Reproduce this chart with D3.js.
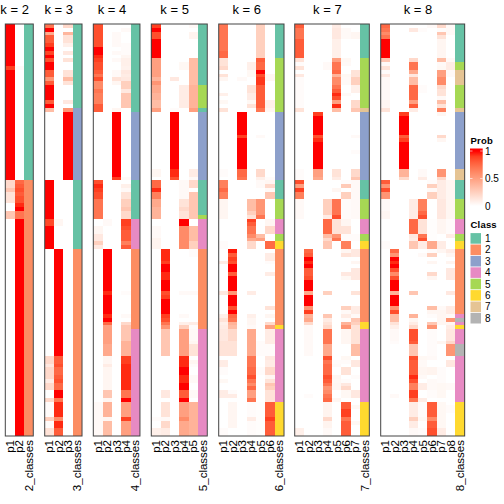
<!DOCTYPE html>
<html><head><meta charset="utf-8">
<script src="https://cdnjs.cloudflare.com/ajax/libs/d3/7.8.5/d3.min.js"></script>
<style>html,body{margin:0;padding:0;background:#fff}svg{display:block}text{font-family:"Liberation Sans",Arial,sans-serif;fill:#000}.cell{shape-rendering:crispEdges}</style>
</head><body><svg id="c" width="504" height="504"></svg>
<script>
// Every series is a list of (row, value) steps: a value holds until the next listed row.
const rowCount = 108;
const kValues = [2,3,4,5,6,7,8];
const classColors = ["#66C2A5","#FC8D62","#8DA0CB","#E78AC3","#A6D854","#FFD92F","#E5C494","#B3B3B3"];
const classLabels = ["1","2","3","4","5","6","7","8"];
const probTicks = [0,0.5,1];

const k2_p1 = [0,1,11,.9,12,1,41,.2,43,.3,44,.15,47,0,49,.3,51,0];
const k2_p2 = [0,0,11,.03,12,0,41,.75,42,.8,43,.85,44,.8,45,.85,47,.95,48,1,49,.7,51,1];
const k2_class = [0,1,41,2];

const k3_p1 = [0,.7,1,1,2,.45,3,.8,5,.9,6,1,7,.88,8,1,9,.85,10,1,12,.8,14,.55,15,.8,16,1,20,.8,21,1,22,.35,23,0,41,1,51,.87,53,1,59,0,87,.2,89,.12,90,.2,93,.1,94,.2,96,0,98,.2,99,.02,103,.25,104,.02,106,.15];
const k3_p2 = [0,0,51,.05,53,0,59,1,87,.8,89,.85,90,.75,92,.8,93,.85,94,.75,96,1,98,.7,99,.95,103,.6,104,.95,106,.8];
const k3_p3 = [0,.2,1,0,2,.38,3,.15,5,.08,6,0,7,.12,8,0,9,.15,10,0,12,.15,14,.35,15,.15,16,0,20,.12,21,0,22,.55,23,1,41,0];
const k3_class = [0,1,22,3,41,1,59,2];

const k4_p1 = [0,.85,6,1,8,.95,9,.9,10,.85,12,.8,13,.7,14,.85,15,.6,17,.7,18,.65,21,.8,23,0,41,.85,42,.95,43,.9,44,.85,46,.7,51,0,53,.05,55,.12,57,.25,58,.12,59,0,99,.03];
const k4_p2 = [0,0,51,.03,53,0,59,1,70,.95,71,1,76,.95,77,1,78,.75,79,.5,83,.5,84,.45,87,.05,89,.1,90,.05,96,.3,98,.05,99,.4,103,.05,104,.35];
const k4_p3 = [0,0,2,.03,6,0,7,.03,8,0,9,.03,10,0,12,.03,14,.15,15,.05,16,0,22,.05,23,1,40,.9,41,0];
const k4_p4 = [0,0,1,.03,2,0,5,.02,8,.05,9,.08,11,.07,12,.12,13,.1,14,.12,15,.25,17,.12,18,.3,22,0,40,.03,41,0,42,.08,43,.03,44,.15,46,.25,48,.3,49,.2,51,.9,53,.85,54,.8,57,.65,58,.8,59,0,70,.02,71,0,76,.03,77,0,78,.2,79,.3,83,.4,87,.9,89,.95,96,.7,98,1,99,.5,103,.9,104,.5];
const k4_class = [0,1,23,3,41,1,51,4,59,2,80,4];

const k5_p1 = [0,.9,1,1,2,.85,4,1,9,.5,14,.4,15,.55,16,.45,18,.4,20,.35,22,.5,23,0,38,.05,40,0,41,.75,43,.95,44,.65,46,.45,48,.4,51,0,53,.03,56,.06,59,0,103,.02,104,0,106,.08];
const k5_p2 = [0,0,59,.95,62,.9,63,1,65,.95,67,1,70,.85,71,.9,72,1,76,.9,77,.85,78,.7,79,.55,80,.3,87,0,96,.12,98,0,99,.15,103,.03,104,.2,106,.1];
const k5_p3 = [0,0,14,.12,15,0,22,.02,23,1,38,.95,40,.85,41,0];
const k5_p4 = [0,0,10,.04,12,0,16,.1,22,0,41,.03,46,.15,48,.2,49,.15,51,1,53,.6,59,0,70,.03,71,0,76,.03,77,0,78,.08,79,.25,80,.5,87,.95,89,.95,90,1,92,.95,94,1,96,.8,98,1,99,.5,103,.6,104,.45];
const k5_p5 = [0,.03,1,0,2,.06,4,0,9,.35,16,.4,22,.5,23,0,38,.1,40,.03,41,.2,43,0,44,.3,51,0,53,.35,57,.25,59,.02,61,0,70,.03,71,0,78,.1,79,.02,80,.03,83,.05,84,.15,87,0,88,.05,89,.02,90,0,92,.03,94,0,96,.03,98,0,99,.4];
const k5_class = [0,1,16,5,22,1,23,3,41,1,50,5,51,4,59,2,80,4];

const k6_p1 = [0,.7,7,.75,9,.15,11,.2,12,0,13,.15,14,.05,15,0,18,.08,19,0,20,.04,21,0,22,.15,23,0,38,.02,40,0,41,.65,43,.75,44,.65,46,.05,51,0,57,.02,59,0,62,.1,63,0,70,.12,71,0,76,.08,77,.15,78,.08,79,.1,80,.12,83,.15,87,0,88,.1,90,.02,92,0,93,.04,94,0,96,.1,98,0,106,.02];
const k6_p2 = [0,0,59,.98,60,.8,61,.9,62,.85,63,1,65,.8,66,1,70,.55,71,1,74,.85,75,1,76,.75,77,.7,78,.4,79,.35,80,.2,83,.15,87,0,96,.02,97,.1,98,0,99,.05,106,0];
const k6_p3 = [0,0,14,.03,15,0,23,1,29,.9,30,1,38,.75,40,.7,41,0];
const k6_p4 = [0,0,10,.08,12,.04,14,0,16,.15,18,.1,20,.04,21,.15,22,0,46,.35,49,.25,50,.15,51,.9,52,.8,53,.7,55,.6,56,.45,57,.2,59,0,70,.1,71,0,76,.08,77,.05,79,.03,80,.45,87,.7,90,.75,92,.85,93,.7,94,.6,95,.75,96,.5,98,.7,99,.02,103,.1,104,.02];
const k6_p5 = [0,.25,9,.8,10,.75,12,1,13,.85,14,.92,16,.8,22,.7,23,0,29,.03,30,0,38,.2,40,.08,41,.03,43,0,46,.55,50,.7,51,0,55,.35,56,.5,57,0,59,0,83,.02,87,0,90,.02,92,0,99,.01];
const k6_p6 = [0,0,13,.05,15,0,20,.08,22,.05,23,0,40,.02,41,.05,42,.2,43,.03,44,.3,46,0,51,.05,53,.2,55,0,57,.75,59,0,60,.1,62,.02,63,0,65,.1,66,0,74,.15,75,0,76,.05,77,0,78,.2,79,.5,80,.1,84,.02,87,.12,88,.1,90,.2,92,.05,93,.15,94,.3,95,.25,96,.15,99,.8,103,.9,104,.8];
const k6_class = [0,1,9,5,23,3,41,1,46,5,51,4,55,5,57,6,59,2,79,6,80,4,99,6];

const k7_p1 = [0,.8,1,.7,4,.8,9,.15,10,.02,11,.15,12,0,13,.12,14,.02,22,.15,23,0,38,.02,41,.85,42,.5,43,.9,44,.65,46,.03,51,0,106,.08];
const k7_p2 = [0,0,59,.75,60,.8,61,1,62,.95,63,1,64,.8,66,.85,67,1,70,.45,71,1,74,.55,75,.9,76,.4,77,.45,78,.2,79,.03,87,0,97,.02,98,0];
const k7_p3 = [0,0,23,.9,24,1,29,.85,30,.95,31,1,38,.5,40,.45,41,0];
const k7_p4 = [0,0,10,.03,12,0,46,.25,50,.1,51,.75,55,.35,56,.2,57,.3,59,0,70,.25,71,0,76,.3,77,.1,78,.15,79,.2,80,.7,83,.7,84,.45,87,.85,88,.7,89,.75,92,.85,93,.8,94,.7,95,.55,96,.6,97,.7,98,.75,99,.06,103,.2,104,.06,106,.03];
const k7_p5 = [0,.1,1,.12,4,.08,9,.5,10,.7,12,.75,13,.4,14,.6,16,.7,17,.8,18,.95,19,.85,20,.5,21,.95,22,.35,23,0,38,.15,40,.1,41,0,43,.05,44,0,46,.7,50,.85,51,.15,55,.55,56,.7,57,0,88,.02,89,.03,90,0,92,.05,93,.04,94,.05,96,0,98,.05,99,0];
const k7_p6 = [0,0,1,.03,4,0,9,.04,10,.03,11,0,13,.04,14,.03,16,0,18,.03,19,0,41,.02,42,.28,43,0,44,.25,46,.02,51,.05,53,.15,55,.02,57,.65,59,.05,60,.15,61,0,65,.12,66,.04,67,0,74,.25,75,.03,76,.1,77,.02,78,.4,79,.55,80,.05,84,0,87,.04,88,.02,89,0,90,.15,92,0,93,.02,94,.12,95,.2,96,.04,98,0,99,.8,101,.9,103,.7,104,.8];
const k7_p7 = [0,0,2,.05,4,0,12,.15,14,.25,16,.08,18,0,20,.2,22,.3,23,0,29,.03,30,0,33,.02,34,0,38,.2,40,.3,41,.03,46,.03,51,0,55,.02,57,0,59,.12,61,0,62,.05,63,0,64,.12,67,0,70,.15,71,0,74,.1,76,.03,77,.3,78,.25,79,.15,83,.15,84,.35,87,0,88,.12,90,0,92,.02,93,0,96,.12,98,0,100,.04,101,0,104,.04,105,0];
const k7_class = [0,1,9,5,22,7,23,3,41,1,46,5,51,4,55,5,57,6,59,2,78,6,80,4,99,6];

const k8_p1 = [0,.75,1,.7,2,.6,3,.7,4,1,9,.3,10,.03,11,.15,12,.02,13,.12,14,.03,20,.05,22,.15,23,0,41,.8,42,.55,43,.85,44,.55,46,.03,49,.05,51,0,57,.02,59,0];
const k8_p2 = [0,0,59,.75,60,.55,61,1,62,.95,63,1,64,.85,65,.6,66,.85,67,1,70,.4,71,1,74,.55,75,.85,76,.35,78,.15,79,.08,80,.03,83,.02,84,0,97,.03,98,0];
const k8_p3 = [0,0,23,.9,24,1,29,.8,30,.9,31,1,38,.4,40,.2,41,0];
const k8_p4 = [0,0,1,.12,2,0,9,.2,10,.7,12,.45,13,.12,14,.35,16,.75,20,.5,21,.8,22,.1,23,0,46,.1,51,.75,55,.12,56,.1,57,.3,59,0,70,.3,71,0,76,.4,77,.05,78,.1,79,.2,80,.85,83,.8,84,.3,87,.85,88,.8,92,.95,93,.85,94,.65,96,.9,98,.7,99,.1,103,.25,104,.1,106,.03];
const k8_p5 = [0,0,1,.02,2,0,16,.02,18,0,38,.03,40,.1,41,0,46,.65,49,.75,50,.85,51,.15,55,.7,56,.85,57,.1,59,0,60,.03,61,0,87,.04,88,.03,90,.05,92,.03,93,0,94,.1,96,0,98,.1,99,.02,103,.04,104,0,106,.02];
const k8_p6 = [0,.03,1,0,41,.02,42,.25,43,.03,44,.25,46,0,51,.01,57,.45,59,.02,60,.25,61,0,62,.05,63,0,65,.2,66,.05,67,0,74,.35,75,.05,76,.02,77,0,78,.3,79,.55,80,.02,87,.03,88,0,90,.06,92,0,93,.03,96,.02,98,0,99,.8,103,.6,104,.8,106,.85];
const k8_p7 = [0,.2,1,.02,2,.3,3,.15,4,.05,9,.35,10,.03,11,.04,12,.5,14,.6,16,.2,17,.15,19,.03,20,.35,21,.15,22,.65,23,.05,24,0,29,.2,30,.05,31,0,38,.55,40,.2,41,.1,46,.12,51,.05,55,0,57,.1,59,.05,60,0,74,.03,75,.05,79,0,83,.05,84,0,90,.02,94,.04,98,0,99,.04,106,.1];
const k8_p8 = [0,.03,3,0,9,.03,10,.1,12,.03,14,0,41,.05,46,.05,51,.02,55,.1,56,0,59,.1,60,.05,61,0,62,.06,63,0,64,.12,67,0,70,.12,71,0,74,.1,76,.03,77,.55,78,.05,79,.1,80,.12,83,.2,84,.55,87,0,88,.12,90,0,94,.03,96,0,100,.02,102,0];
const k8_class = [0,1,10,5,12,7,16,5,22,7,23,3,38,7,41,1,46,5,51,4,55,5,57,6,59,2,76,4,77,8,78,4,79,6,80,4,84,8,87,4,99,6];

const probSeries = {
  2:[k2_p1,k2_p2],
  3:[k3_p1,k3_p2,k3_p3],
  4:[k4_p1,k4_p2,k4_p3,k4_p4],
  5:[k5_p1,k5_p2,k5_p3,k5_p4,k5_p5],
  6:[k6_p1,k6_p2,k6_p3,k6_p4,k6_p5,k6_p6],
  7:[k7_p1,k7_p2,k7_p3,k7_p4,k7_p5,k7_p6,k7_p7],
  8:[k8_p1,k8_p2,k8_p3,k8_p4,k8_p5,k8_p6,k8_p7,k8_p8]
};
const classSeries = {2:k2_class,3:k3_class,4:k4_class,5:k5_class,6:k6_class,7:k7_class,8:k8_class};
const panelLeft = {2:5.3,3:44.7,4:93.3,5:151.3,6:218.7,7:294.7,8:380.7};

function expand(steps){
  const out=new Array(rowCount).fill(0);
  for(let i=0;i<steps.length;i+=2){
    const end=i+2<steps.length?steps[i+2]:rowCount;
    for(let r=steps[i];r<end;r++) out[r]=steps[i+1];
  }
  return out;
}

const svg=d3.select("#c");
const plotTop=24,plotBottom=436,colW=9.33;
const y=d3.scaleBand().domain(d3.range(rowCount)).range([plotTop,plotBottom]);
const color=d3.scaleLinear().domain([0,1]).range(["#ffffff","#ff0000"]).interpolate(d3.interpolateLab);
const classColor=d3.scaleOrdinal().domain(d3.range(1,9)).range(classColors);

kValues.forEach(k=>{
  const cols=probSeries[k].map((s,i)=>"p"+(i+1));
  const names=cols.concat([k+"_classes"]);
  const x=d3.scaleBand().domain(names).range([panelLeft[k],panelLeft[k]+colW*names.length]);
  const g=svg.append("g");
  probSeries[k].forEach((s,i)=>{
    g.append("g").selectAll("rect").data(expand(s)).join("rect").attr("class","cell")
      .attr("x",x(cols[i])).attr("width",x.bandwidth())
      .attr("y",(d,r)=>y(r)).attr("height",y.bandwidth())
      .attr("fill",d=>color(d));
  });
  g.append("g").selectAll("rect").data(expand(classSeries[k])).join("rect").attr("class","cell")
    .attr("x",x(names[names.length-1])).attr("width",x.bandwidth())
    .attr("y",(d,r)=>y(r)).attr("height",y.bandwidth())
    .attr("fill",d=>classColor(d));
  g.append("rect").attr("x",panelLeft[k]).attr("y",plotTop)
    .attr("width",colW*names.length).attr("height",plotBottom-plotTop)
    .attr("fill","none").attr("stroke","#444").attr("stroke-width",1);
  g.append("text").attr("x",panelLeft[k]+colW*cols.length/2).attr("y",14)
    .attr("text-anchor","middle").attr("font-size",13).text("k = "+k);
  names.forEach(n=>{
    g.append("text")
      .attr("transform",`translate(${x(n)+x.bandwidth()/2+4},440) rotate(-90)`)
      .attr("text-anchor","end").attr("font-size",11.5).text(n);
  });
});

// legends
const leg=svg.append("g");
leg.append("text").attr("x",470.5).attr("y",143.5).attr("font-size",9.5).attr("font-weight","bold").attr("letter-spacing",".2").text("Prob");
const probY=d3.scaleLinear().domain([0,1]).range([206,151]);
const grad=svg.append("defs").append("linearGradient").attr("id","pg").attr("x1",0).attr("x2",0).attr("y1",1).attr("y2",0);
d3.range(0,1.01,.1).forEach(v=>grad.append("stop").attr("offset",v).attr("stop-color",color(v)));
leg.append("rect").attr("x",470).attr("width",12.7).attr("y",probY(1)).attr("height",probY(0)-probY(1)).attr("fill","url(#pg)");
leg.append("rect").attr("x",470).attr("width",12.7).attr("y",148.5).attr("height",probY(1)-148.5).attr("fill",color(1));
probTicks.forEach(t=>{
  leg.append("text").attr("x",485).attr("y",probY(t)+3.5).attr("font-size",10).text(t);
  [470,480.2].forEach(xx=>leg.append("line").attr("x1",xx).attr("x2",xx+2.5).attr("y1",probY(t)).attr("y2",probY(t)).attr("stroke","#fff").attr("stroke-opacity",.6));
});
leg.append("text").attr("x",470.5).attr("y",227.5).attr("font-size",9.5).attr("font-weight","bold").attr("letter-spacing",".2").text("Class");
const ly=d3.scaleBand().domain(classLabels).range([232.7,232.7+11.4*8]);
leg.selectAll(".sw").data(classLabels).join("rect").attr("class","sw")
  .attr("x",470.5).attr("width",10.5).attr("y",d=>ly(d)+.4).attr("height",10.6)
  .attr("fill",(d,i)=>classColors[i]);
leg.selectAll(".lb").data(classLabels).join("text").attr("class","lb")
  .attr("x",485).attr("y",d=>ly(d)+9.3).attr("font-size",10).text(d=>d);
</script></body></html>
